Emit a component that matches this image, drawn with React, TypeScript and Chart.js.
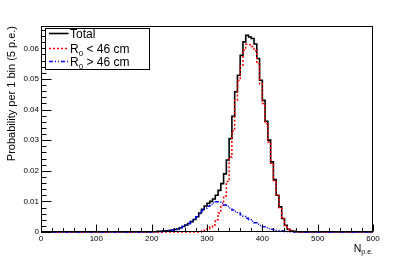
import React, { useEffect, useRef } from "react";
import { Chart, registerables } from "chart.js";

Chart.register(...registerables);

// ---- data (histogram, 5 p.e. per bin, lower bin edges from 0 to 595) ----
const binLow = 0;
const binWidth = 5;
const binHigh = 600;

const totalValues = [
  0, 0, 0, 0, 0, 0, 0, 0, 0, 0,
  0, 0, 0, 0, 0, 0, 0, 0, 0, 0,
  0, 0, 0, 0, 0, 0, 0, 0, 0, 0,
  0, 0, 0, 0, 0, 0, 0, 0, 0, 0,
  0.0001, 0.0001, 0.0002, 0.0002, 0.0003, 0.0004, 0.0005, 0.0006, 0.0008, 0.0010,
  0.0014, 0.0018, 0.0023, 0.0028, 0.0034, 0.0041, 0.0050, 0.0062, 0.0074, 0.0085,
  0.0094, 0.0100, 0.0108, 0.0120, 0.0136, 0.0158, 0.0190, 0.0235, 0.0305, 0.0378,
  0.0458, 0.0512, 0.0577, 0.0621, 0.0643, 0.0637, 0.0632, 0.0614, 0.0567, 0.0496,
  0.0430, 0.0362, 0.0300, 0.0229, 0.0171, 0.0120, 0.0082, 0.0044, 0.0022, 0.0009,
  0.0004, 0.0002, 0.0001, 0, 0, 0, 0, 0, 0, 0,
  0, 0, 0, 0, 0, 0, 0, 0, 0, 0,
  0, 0, 0, 0, 0, 0, 0, 0, 0, 0,
];

const innerValues = [
  0, 0, 0, 0, 0, 0, 0, 0, 0, 0,
  0, 0, 0, 0, 0, 0, 0, 0, 0, 0,
  0, 0, 0, 0, 0, 0, 0, 0, 0, 0,
  0, 0, 0, 0, 0, 0, 0, 0, 0, 0,
  0, 0, 0, 0, 0, 0, 0, 0, 0, 0,
  0, 0, 0, 0, 0, 0, 0, 0, 0.0003, 0.0006,
  0.0011, 0.0016, 0.0023, 0.0040, 0.0062, 0.0087, 0.0118, 0.0165, 0.0245, 0.0330,
  0.0430, 0.0495, 0.0545, 0.0595, 0.0613, 0.0612, 0.0606, 0.0592, 0.0550, 0.0484,
  0.0420, 0.0354, 0.0294, 0.0225, 0.0168, 0.0118, 0.0080, 0.0043, 0.0021, 0.0008,
  0.0003, 0.0001, 0, 0, 0, 0, 0, 0, 0, 0,
  0, 0, 0, 0, 0, 0, 0, 0, 0, 0,
  0, 0, 0, 0, 0, 0, 0, 0, 0, 0,
];

const outerValues = [
  0, 0, 0, 0, 0, 0, 0, 0, 0, 0,
  0, 0, 0, 0, 0, 0, 0, 0, 0, 0,
  0, 0, 0, 0, 0, 0, 0, 0, 0, 0,
  0, 0, 0, 0, 0, 0, 0, 0, 0, 0,
  0.0001, 0.0001, 0.0002, 0.0002, 0.0003, 0.0004, 0.0005, 0.0006, 0.0008, 0.0010,
  0.0014, 0.0018, 0.0023, 0.0028, 0.0034, 0.0041, 0.0050, 0.0060, 0.0070, 0.0078,
  0.0084, 0.0090, 0.0095, 0.0099, 0.0098, 0.0094, 0.0088, 0.0083, 0.0078, 0.0072,
  0.0067, 0.0062, 0.0056, 0.0051, 0.0045, 0.0040, 0.0035, 0.0030, 0.0025, 0.0021,
  0.0017, 0.0014, 0.0011, 0.0009, 0.0007, 0.0005, 0.0004, 0.0003, 0.0002, 0.0002,
  0.0001, 0.0001, 0, 0, 0, 0, 0, 0, 0, 0,
  0, 0, 0, 0, 0, 0, 0, 0, 0, 0,
  0, 0, 0, 0, 0, 0, 0, 0, 0, 0,
];

const xTickValues = [0, 100, 200, 300, 400, 500, 600];
const xTickLabels = ["0", "100", "200", "300", "400", "500", "600"];
const yTickValues = [0, 0.01, 0.02, 0.03, 0.04, 0.05, 0.06];
const yTickLabels = ["0", "0.01", "0.02", "0.03", "0.04", "0.05", "0.06"];
const yMax = 0.0673;

const legendEntries = [
  { main: "Total", sub: "", rest: "" },
  { main: "R", sub: "0", rest: " < 46 cm" },
  { main: "R", sub: "0", rest: " > 46 cm" },
];
const xTitleMain = "N";
const xTitleSub = "p.e.";
const yTitle = "Probability per 1 bin (5 p.e.)";

// ---- styles ----
const FONT = "'Liberation Sans', Arial, Helvetica, sans-serif";
const colors = ["#000000", "#ff0000", "#0000ff"];
const widths = [1.6, 1.5, 1.5];
const dashes: number[][] = [[], [2, 2], [4, 2, 1, 2, 1, 2]];

function toSteps(vals: number[]) {
  const pts = vals.map((v, i) => ({ x: binLow + i * binWidth, y: v }));
  pts.push({ x: binHigh, y: vals[vals.length - 1] });
  return pts;
}

const decorPlugin = {
  id: "decor",
  afterDraw(chart: any) {
    const { ctx, chartArea: a, scales } = chart;
    const xs = scales.x;
    const ys = scales.y;
    ctx.save();
    ctx.strokeStyle = "#000";
    ctx.lineWidth = 1;
    ctx.setLineDash([]);
    // frame
    const L = Math.round(a.left) + 0.5;
    const R = Math.round(a.right) - 0.5;
    const T = Math.round(a.top) + 0.5;
    const B = Math.round(a.bottom) - 0.5;
    ctx.strokeRect(L, T, R - L, B - T);

    // x ticks
    ctx.beginPath();
    for (let k = 0; k < xTickValues.length; k++) {
      const v = xTickValues[k];
      const px = Math.round(xs.getPixelForValue(v)) + 0.5;
      ctx.moveTo(px, B);
      ctx.lineTo(px, B - 7);
      if (k < xTickValues.length - 1) {
        const step = (xTickValues[k + 1] - v) / 5;
        for (let m = 1; m < 5; m++) {
          const mx = Math.round(xs.getPixelForValue(v + m * step)) + 0.5;
          ctx.moveTo(mx, B);
          ctx.lineTo(mx, B - 3.5);
        }
      }
    }
    // y ticks
    for (let k = 0; k < yTickValues.length; k++) {
      const v = yTickValues[k];
      const py = Math.round(ys.getPixelForValue(v)) + 0.5;
      ctx.moveTo(L, py);
      ctx.lineTo(L + 10, py);
      const step = 0.002;
      for (let m = 1; m < 5; m++) {
        const mv = v + m * step;
        if (mv > yMax) break;
        const my = Math.round(ys.getPixelForValue(mv)) + 0.5;
        ctx.moveTo(L, my);
        ctx.lineTo(L + 5, my);
      }
    }
    ctx.stroke();

    // legend box
    ctx.fillStyle = "#fff";
    ctx.fillRect(45.5, 28.5, 104, 41);
    ctx.strokeRect(45.5, 28.5, 104, 41);
    const lineYs = [33.5, 48.5, 61.5];
    const baseYs = [37.7, 52.7, 66];
    for (let i = 0; i < legendEntries.length; i++) {
      ctx.save();
      ctx.strokeStyle = colors[i];
      ctx.lineWidth = widths[i];
      ctx.setLineDash(dashes[i]);
      ctx.beginPath();
      ctx.moveTo(49, lineYs[i]);
      ctx.lineTo(68.5, lineYs[i]);
      ctx.stroke();
      ctx.restore();
      const e = legendEntries[i];
      ctx.fillStyle = "#000";
      ctx.textAlign = "left";
      ctx.textBaseline = "alphabetic";
      ctx.font = `12px ${FONT}`;
      let tx = 70;
      ctx.fillText(e.main, tx, baseYs[i]);
      tx += ctx.measureText(e.main).width;
      if (e.sub) {
        ctx.font = `8px ${FONT}`;
        ctx.fillText(e.sub, tx, baseYs[i] + 3);
        tx += ctx.measureText(e.sub).width;
        ctx.font = `12px ${FONT}`;
        ctx.fillText(e.rest, tx, baseYs[i]);
      }
    }

    // x title
    ctx.fillStyle = "#000";
    ctx.font = `7px ${FONT}`;
    const ws = ctx.measureText(xTitleSub).width;
    ctx.fillText(xTitleSub, a.right - ws, 253.5);
    ctx.font = `10.5px ${FONT}`;
    const wn = ctx.measureText(xTitleMain).width;
    ctx.fillText(xTitleMain, a.right - ws - wn, 252);

    // y title
    ctx.save();
    ctx.translate(14.5, a.top);
    ctx.rotate(-Math.PI / 2);
    ctx.font = `11px ${FONT}`;
    ctx.textAlign = "right";
    ctx.fillText(yTitle, 0, 0);
    ctx.restore();

    ctx.restore();
  },
};

export default function App() {
  const ref = useRef<HTMLCanvasElement>(null);
  useEffect(() => {
    document.body.style.margin = "0";
    const series = [totalValues, innerValues, outerValues];
    const orders = [3, 2, 1];
    const chart = new Chart(ref.current as HTMLCanvasElement, {
      type: "line",
      data: {
        datasets: series.map((vals, i) => ({
          label: legendEntries[i].main + legendEntries[i].sub + legendEntries[i].rest,
          data: toSteps(vals),
          borderColor: colors[i],
          borderWidth: widths[i],
          borderDash: dashes[i],
          stepped: "before" as const,
          pointRadius: 0,
          fill: false,
          tension: 0,
          order: orders[i],
          clip: 3,
        })),
      },
      options: {
        animation: false,
        responsive: false,
        devicePixelRatio: 1,
        events: [],
        layout: { padding: { top: 26, right: 42, left: 0, bottom: 0 } },
        plugins: { legend: { display: false }, tooltip: { enabled: false } },
        scales: {
          x: {
            type: "linear",
            min: binLow,
            max: binHigh,
            grid: { display: false, drawTicks: false },
            border: { display: false },
            afterBuildTicks: (s: any) => {
              s.ticks = xTickValues.map((v) => ({ value: v }));
            },
            afterFit: (s: any) => {
              s.height = 26;
            },
            ticks: {
              autoSkip: false,
              maxRotation: 0,
              padding: 2,
              color: "#000",
              font: { family: FONT, size: 8 },
              callback: (_v: any, i: number) => xTickLabels[i],
            },
          },
          y: {
            type: "linear",
            min: 0,
            max: yMax,
            grid: { display: false, drawTicks: false },
            border: { display: false },
            afterBuildTicks: (s: any) => {
              s.ticks = yTickValues.map((v) => ({ value: v }));
            },
            afterFit: (s: any) => {
              s.width = 41;
            },
            ticks: {
              autoSkip: false,
              padding: 2,
              color: "#000",
              font: { family: FONT, size: 8 },
              callback: (_v: any, i: number) => yTickLabels[i],
            },
          },
        },
      },
      plugins: [decorPlugin],
    });
    return () => chart.destroy();
  }, []);
  return (
    <div style={{ position: "absolute", left: 0, top: 0, width: 415, height: 258, background: "#fff" }}>
      <canvas ref={ref} width={415} height={258} style={{ display: "block", width: 415, height: 258 }} />
    </div>
  );
}
